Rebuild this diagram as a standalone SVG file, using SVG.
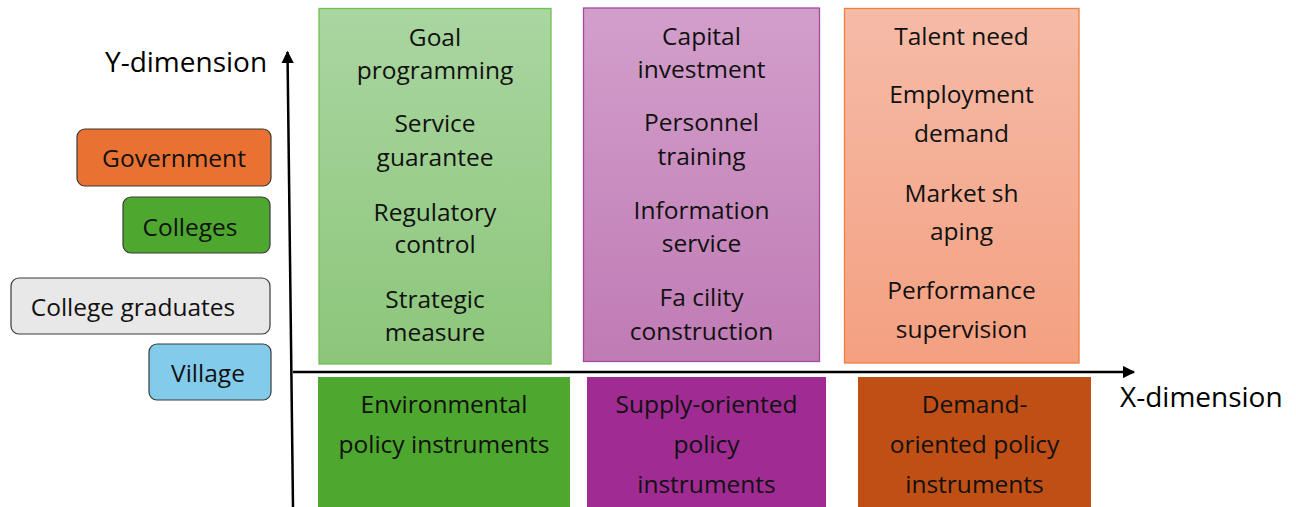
<svg xmlns="http://www.w3.org/2000/svg" width="1296" height="507" viewBox="0 0 1296 507">
  <style>
    text { font-family: "Open Sans", "Liberation Sans", sans-serif; fill: #111; }
    .t { font-size: 24.5px; text-anchor: middle; }
    .axis-label { font-size: 28px; fill: #000; }
    .actor { stroke: #3a3a3a; stroke-width: 1.2; }
    .axis { stroke: #000; stroke-width: 2.5; fill: none; }
  </style>
  <defs>
    <linearGradient id="gGreen" x1="0" y1="0" x2="0" y2="1">
      <stop offset="0" stop-color="#aad6a1"/>
      <stop offset="1" stop-color="#8cc67a"/>
    </linearGradient>
    <linearGradient id="gPurple" x1="0" y1="0" x2="0" y2="1">
      <stop offset="0" stop-color="#d29fca"/>
      <stop offset="1" stop-color="#c07bb5"/>
    </linearGradient>
    <linearGradient id="gOrange" x1="0" y1="0" x2="0" y2="1">
      <stop offset="0" stop-color="#f5bba7"/>
      <stop offset="1" stop-color="#f4a081"/>
    </linearGradient>
    <marker id="arrow" viewBox="0 0 10 10" refX="9" refY="5" markerWidth="5" markerHeight="5" orient="auto" markerUnits="strokeWidth">
      <path d="M0,0 L10,5 L0,10 z" fill="#000"/>
    </marker>
  </defs>

  <!-- axes -->
  <g id="connectors">
    <line class="axis" x1="293" y1="507" x2="287.5" y2="52" marker-end="url(#arrow)"/>
    <line class="axis" x1="293" y1="372" x2="1134" y2="372" marker-end="url(#arrow)"/>
  </g>

  <text class="axis-label" x="105" y="72">Y-dimension</text>
  <text class="axis-label" x="1120" y="407">X-dimension</text>

  <!-- actors -->
  <g id="government">
    <rect class="actor" x="77" y="129" width="194" height="57" rx="8" fill="#e97132"/>
    <text class="t" x="174" y="167">Government</text>
  </g>
  <g id="colleges">
    <rect class="actor" x="123" y="197" width="147" height="56" rx="8" fill="#4ea72e"/>
    <text class="t" x="190" y="236">Colleges</text>
  </g>
  <g id="college-graduates">
    <rect class="actor" x="11" y="278" width="259" height="56" rx="8" fill="#e8e8e8"/>
    <text class="t" x="133" y="316">College graduates</text>
  </g>
  <g id="village">
    <rect class="actor" x="149" y="344" width="122" height="56" rx="8" fill="#83cbeb"/>
    <text class="t" x="208" y="382">Village</text>
  </g>

  <!-- environmental column -->
  <g id="environmental-measures">
    <rect x="319" y="8.5" width="232" height="355.5" fill="url(#gGreen)" stroke="#72c153" stroke-width="1.3"/>
    <text class="t" x="435" y="46">Goal</text>
    <text class="t" x="435" y="79">programming</text>
    <text class="t" x="435" y="132">Service</text>
    <text class="t" x="435" y="166">guarantee</text>
    <text class="t" x="435" y="221">Regulatory</text>
    <text class="t" x="435" y="253">control</text>
    <text class="t" x="435" y="308">Strategic</text>
    <text class="t" x="435" y="341">measure</text>
  </g>
  <g id="environmental-instruments">
    <rect x="318" y="377" width="252" height="130" fill="#4ea72e"/>
    <text class="t" x="444" y="413">Environmental</text>
    <text class="t" x="444" y="453">policy instruments</text>
  </g>

  <!-- supply column -->
  <g id="supply-measures">
    <rect x="583.5" y="8" width="236" height="353.5" fill="url(#gPurple)" stroke="#a549a0" stroke-width="1.3"/>
    <text class="t" x="701.5" y="45">Capital</text>
    <text class="t" x="701.5" y="78">investment</text>
    <text class="t" x="701.5" y="131">Personnel</text>
    <text class="t" x="701.5" y="165">training</text>
    <text class="t" x="701.5" y="219">Information</text>
    <text class="t" x="701.5" y="252">service</text>
    <text class="t" x="701.5" y="306">Fa cility</text>
    <text class="t" x="701.5" y="340">construction</text>
  </g>
  <g id="supply-instruments">
    <rect x="587" y="377" width="239" height="130" fill="#a02b93"/>
    <text class="t" x="706.5" y="413">Supply-oriented</text>
    <text class="t" x="706.5" y="453">policy</text>
    <text class="t" x="706.5" y="493">instruments</text>
  </g>

  <!-- demand column -->
  <g id="demand-measures">
    <rect x="844.5" y="8.5" width="234.5" height="354.5" fill="url(#gOrange)" stroke="#f07f3f" stroke-width="1.3"/>
    <text class="t" x="961.5" y="45">Talent need</text>
    <text class="t" x="961.5" y="103">Employment</text>
    <text class="t" x="961.5" y="142">demand</text>
    <text class="t" x="961.5" y="202">Market sh</text>
    <text class="t" x="961.5" y="240">aping</text>
    <text class="t" x="961.5" y="299">Performance</text>
    <text class="t" x="961.5" y="338">supervision</text>
  </g>
  <g id="demand-instruments">
    <rect x="858" y="377" width="233" height="130" fill="#c04f15"/>
    <text class="t" x="974.5" y="413">Demand-</text>
    <text class="t" x="974.5" y="453">oriented policy</text>
    <text class="t" x="974.5" y="493">instruments</text>
  </g>
</svg>
